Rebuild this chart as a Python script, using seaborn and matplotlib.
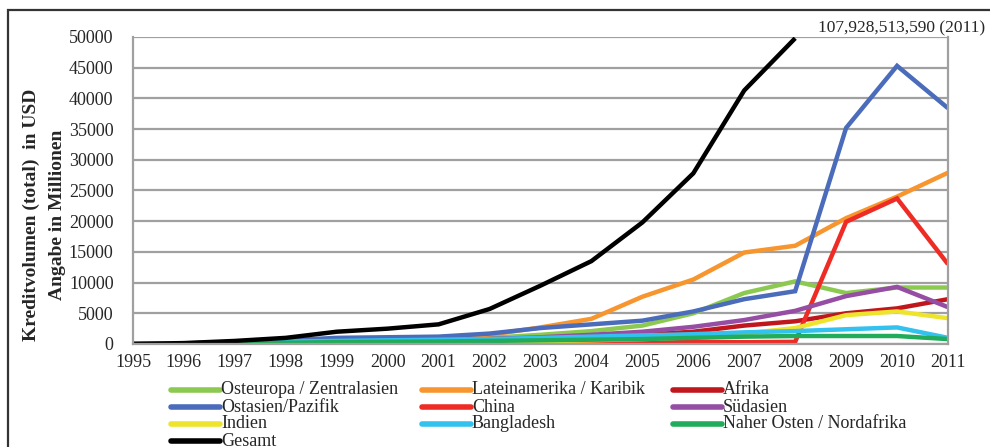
import pandas as pd
import numpy as np
import matplotlib.pyplot as plt
import seaborn as sns
from matplotlib.lines import Line2D
from matplotlib.patches import Rectangle

YEARS = list(range(1995, 2012))

OSTEUROPA = [0, 50, 200, 400, 600, 700, 800, 1000, 1500, 2100, 3000, 5000, 8300, 10200, 8300, 9200, 9200]
LATEINAMERIKA = [0, 100, 300, 500, 700, 900, 1100, 1500, 2700, 4100, 7700, 10500, 14900, 16000, 20500, 24000, 27900]
AFRIKA = [0, 50, 150, 300, 400, 500, 600, 800, 900, 1100, 1500, 2000, 3000, 3700, 5000, 5800, 7300]
OSTASIEN = [0, 100, 300, 600, 1000, 1100, 1200, 1700, 2600, 3200, 3800, 5300, 7300, 8600, 35200, 45300, 38400]
CHINA = [0, 0, 0, 20, 40, 60, 80, 100, 150, 200, 250, 300, 300, 350, 19900, 23700, 13000]
SUEDASIEN = [0, 50, 150, 300, 400, 450, 500, 800, 1100, 1500, 2000, 2800, 3900, 5400, 7800, 9300, 6000]
INDIEN = [0, 20, 50, 100, 150, 200, 250, 350, 450, 600, 800, 1100, 1700, 2600, 4700, 5300, 4200]
BANGLADESH = [0, 50, 200, 400, 500, 600, 700, 800, 1000, 1200, 1400, 1600, 1900, 2100, 2400, 2700, 1000]
NAHER_OSTEN = [0, 20, 100, 200, 300, 350, 400, 500, 600, 700, 800, 1000, 1200, 1300, 1300, 1300, 800]
GESAMT = [0, 150, 500, 1000, 2000, 2500, 3200, 5700, 9500, 13500, 19800, 27800, 41300, 49800]

SERIES = [
    ('Osteuropa / Zentralasien', OSTEUROPA, '#8cc950'),
    ('Lateinamerika / Karibik', LATEINAMERIKA, '#f7952e'),
    ('Afrika', AFRIKA, '#c0161d'),
    ('Ostasien/Pazifik', OSTASIEN, '#4a6cba'),
    ('China', CHINA, '#ee2b25'),
    ('Südasien', SUEDASIEN, '#954ea3'),
    ('Indien', INDIEN, '#eee42b'),
    ('Bangladesh', BANGLADESH, '#33c1ee'),
    ('Naher Osten / Nordafrika', NAHER_OSTEN, '#20ac5a'),
    ('Gesamt', GESAMT, '#000000'),
]

# long form table for seaborn
rows = []
for name, values, color in SERIES:
    for year, v in zip(YEARS, values):
        rows.append({'Jahr': year, 'Wert': v, 'Region': name})
df = pd.DataFrame(rows)
palette = {name: color for name, values, color in SERIES}
order = [name for name, values, color in SERIES]

sns.set_style('white')
plt.rcParams['font.family'] = ['Liberation Serif', 'DejaVu Serif']

W, H = 990, 447
fig = plt.figure(figsize=(W / 100, H / 100), dpi=100)
ax = fig.add_axes([133 / W, 1 - 344 / H, (948 - 133) / W, (344 - 37) / H])

sns.lineplot(data=df, x='Jahr', y='Wert', hue='Region', hue_order=order,
             palette=palette, linewidth=3.2, legend=False, ax=ax,
             solid_capstyle='butt', solid_joinstyle='miter')

ax.set_xlim(1995, 2011)
ax.set_ylim(0, 50000)
ax.set_xticks(YEARS)
ax.set_xticklabels([str(y) for y in YEARS], fontsize=13)
ax.set_yticks(range(0, 50001, 5000))
ax.set_yticklabels([str(v) for v in range(0, 50001, 5000)], fontsize=13)
ax.yaxis.grid(True, color='#a0a0a0', linewidth=1.6)
ax.set_axisbelow(True)
ax.tick_params(axis='y', direction='out', length=6, width=1.4, color='#a0a0a0', pad=8)
ax.tick_params(axis='x', direction='out', length=4, width=1.4, color='#a0a0a0', pad=3)
for side in ['left', 'right', 'bottom']:
    ax.spines[side].set_color('#a0a0a0')
    ax.spines[side].set_linewidth(1.6)
ax.spines['top'].set_visible(False)
ax.set_xlabel('')
ax.set_ylabel('')

fig.text(31 / W, 1 - 215 / H, 'Kreditvolumen (total)  in USD', rotation=90, fontsize=14,
         fontweight='bold', ha='center', va='center')
fig.text(57 / W, 1 - 215 / H, 'Angabe in Millionen', rotation=90, fontsize=14,
         fontweight='bold', ha='center', va='center')

ax.text(2008.45, 50150, '107,928,513,590 (2011)', fontsize=12.5, ha='left', va='bottom')

# legend drawn by hand: three columns, filled row by row
col_x = [171, 422, 673]
row_y = [390, 407, 424, 441]
for i, (name, values, color) in enumerate(SERIES):
    x0 = col_x[i % 3]
    y0 = 1 - row_y[i // 3] / H
    fig.add_artist(Line2D([x0 / W, (x0 + 49) / W], [y0, y0], color=color,
                          linewidth=4, solid_capstyle='round', transform=fig.transFigure))
    fig.text((x0 + 50) / W, y0, name, fontsize=13, ha='left', va='center')

# outer frame
fig.patches.append(Rectangle((8 / W, -0.1), 1.1, 1.1 - 10 / H, transform=fig.transFigure,
                             fill=False, edgecolor='#333333', linewidth=1.6))

fig.savefig('out.png', dpi=100)
